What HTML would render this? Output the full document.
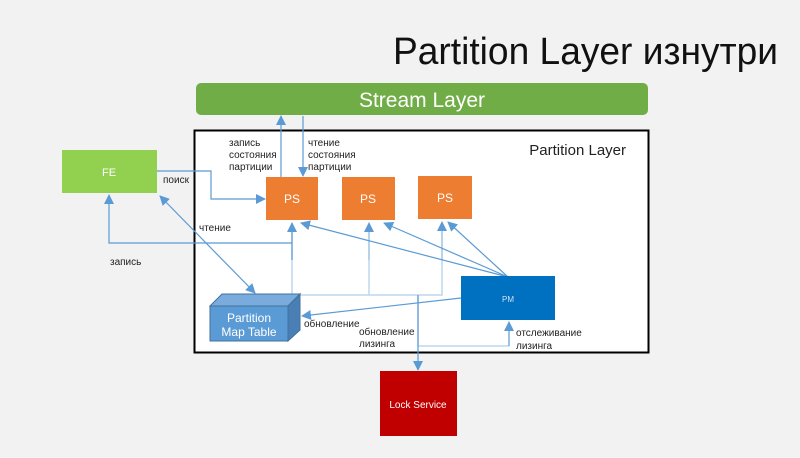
<!DOCTYPE html>
<html><head><meta charset="utf-8"><style>
html,body{margin:0;padding:0;background:#f2f2f2;}
svg{display:block;font-family:"Liberation Sans","Noto Sans CJK SC",sans-serif;}
</style></head><body>
<svg width="800" height="458" viewBox="0 0 800 458" xmlns="http://www.w3.org/2000/svg">
<defs>
<marker id="a" markerWidth="10" markerHeight="10" refX="9" refY="5" orient="auto" markerUnits="userSpaceOnUse"><path d="M0,0 L10,5 L0,10 z" fill="#5b9bd5"/></marker>
<marker id="s" markerWidth="10" markerHeight="10" refX="1" refY="5" orient="auto" markerUnits="userSpaceOnUse"><path d="M10,0 L0,5 L10,10 z" fill="#5b9bd5"/></marker>
</defs>
<rect width="800" height="458" fill="#f2f2f2"/>
<text x="778" y="64" font-size="38" text-anchor="end" fill="#111" textLength="385" lengthAdjust="spacingAndGlyphs">Partition Layer изнутри</text>
<rect x="196" y="83" width="452" height="32" rx="5" fill="#70ad47"/>
<text x="422" y="107" font-size="21" fill="#fff" text-anchor="middle">Stream Layer</text>
<rect x="194.5" y="130.5" width="454" height="222" fill="#fff" stroke="#000" stroke-width="2"/>
<text x="626" y="155" font-size="15" fill="#222" text-anchor="end">Partition Layer</text>

<g stroke="#bdd7ee" stroke-width="1.5" fill="none">
<path d="M292,226 V295 H442 V226"/>
<path d="M369,226 V295"/>
<path d="M418,295 V346 H509"/>
</g>
<g stroke="#5b9bd5" stroke-width="1.2" fill="none">
<path d="M418,295 V370" marker-end="url(#a)"/>
<path d="M509,346 V322" marker-end="url(#a)"/>
<path d="M369,260 V223" stroke="#9dc3e6" marker-end="url(#a)"/>
<path d="M442,260 V222" stroke="#9dc3e6" marker-end="url(#a)"/>
<path d="M281,177 V116" marker-end="url(#a)"/>
<path d="M303,116 V176" marker-end="url(#a)"/>
<path d="M157,171 H211 V199 H265" marker-end="url(#a)"/>
<path d="M292,260 V243 H109 V195" marker-end="url(#a)"/>
<path d="M292,243 V223" marker-end="url(#a)"/>
<path d="M160,196 L255,293" marker-start="url(#s)" marker-end="url(#a)"/>
<path d="M508,277 L301,223" marker-end="url(#a)"/>
<path d="M508,277 L384,223" marker-end="url(#a)"/>
<path d="M508,277 L448,222" marker-end="url(#a)"/>
<path d="M461,298 L302,316" marker-end="url(#a)"/>
</g>

<rect x="62" y="150" width="95" height="43" fill="#92d050"/>
<text x="109" y="176" font-size="11" fill="#fff" text-anchor="middle">FE</text>
<rect x="266" y="177" width="52" height="43" fill="#ed7d31"/>
<text x="292" y="203" font-size="12" fill="#fff" text-anchor="middle">PS</text>
<rect x="342" y="177" width="53" height="43" fill="#ed7d31"/>
<text x="368" y="203" font-size="12" fill="#fff" text-anchor="middle">PS</text>
<rect x="418" y="176" width="54" height="43" fill="#ed7d31"/>
<text x="445" y="202" font-size="12" fill="#fff" text-anchor="middle">PS</text>
<rect x="461" y="276" width="94" height="44" fill="#0070c0"/>
<text x="508" y="302" font-size="8" fill="#cfe2f3" text-anchor="middle">PM</text>
<rect x="380" y="371" width="77" height="65" fill="#c00000"/>
<text x="418" y="408" font-size="10" fill="#fff" text-anchor="middle">Lock Service</text>

<polygon points="210,306 222,294 300,294 288,306" fill="#7aabdd" stroke="#41719c"/>
<polygon points="288,306 300,294 300,330 288,341" fill="#4a7fb5" stroke="#41719c"/>
<rect x="210" y="306" width="78" height="35" fill="#5b9bd5" stroke="#41719c"/>
<text x="249" y="322" font-size="12" fill="#fff" text-anchor="middle">Partition</text>
<text x="249" y="336" font-size="12" fill="#fff" text-anchor="middle">Map Table</text>

<g font-size="10" fill="#222">
<text x="229" y="146">запись</text><text x="229" y="158">состояния</text><text x="229" y="170">партиции</text>
<text x="308" y="146">чтение</text><text x="308" y="158">состояния</text><text x="308" y="170">партиции</text>
<text x="163" y="183">поиск</text>
<text x="199" y="231">чтение</text>
<text x="110" y="265">запись</text>
<text x="304" y="327">обновление</text>
<text x="359" y="335">обновление</text><text x="359" y="347">лизинга</text>
<text x="516" y="336">отслеживание</text><text x="516" y="349">лизинга</text>
</g>
</svg>
</body></html>
